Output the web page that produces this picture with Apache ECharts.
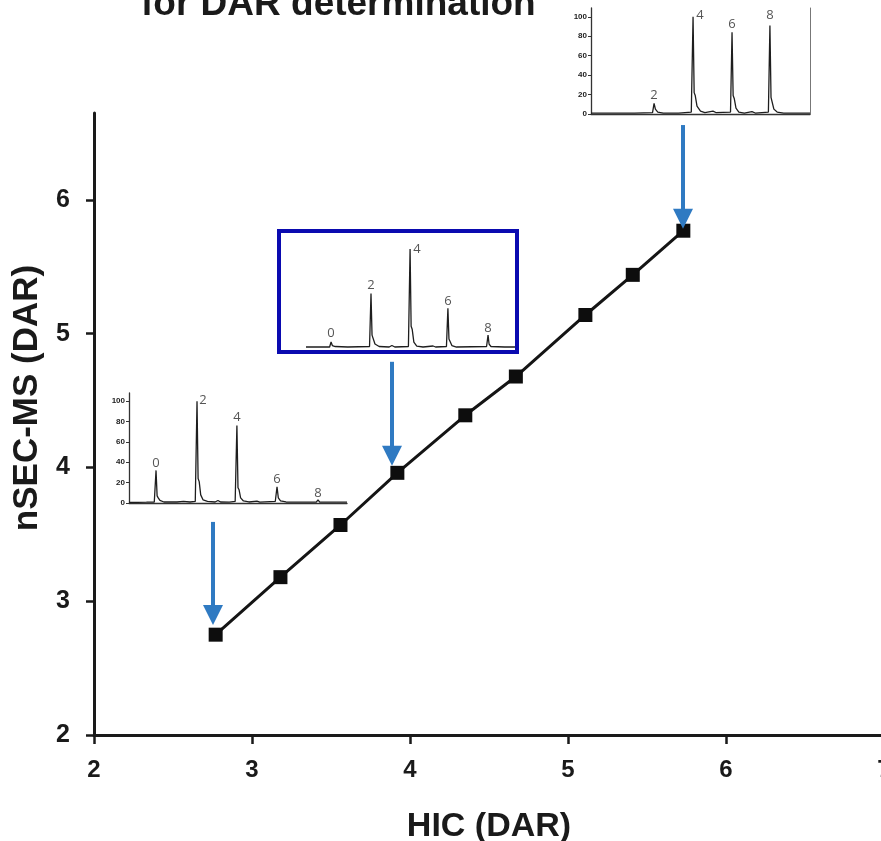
<!DOCTYPE html>
<html>
<head>
<meta charset="utf-8">
<script src="https://cdn.jsdelivr.net/npm/echarts@6/dist/echarts.min.js"></script>
<style>
html,body{margin:0;padding:0;background:#ffffff;}
#chart{width:881px;height:841px;}
</style>
</head>
<body>
<div id="chart"></div>
<script>
// ---- main correlation data ----
const hicDar  = [2.77, 3.18, 3.56, 3.92, 4.35, 4.67, 5.11, 5.41, 5.73];
const nsecDar = [2.75, 3.18, 3.57, 3.96, 4.39, 4.68, 5.14, 5.44, 5.77];
const xTicks = [2, 3, 4, 5, 6, 7];
const yTicks = [2, 3, 4, 5, 6];
const titleText = 'for DAR determination';
const xName = 'HIC (DAR)';
const yName = 'nSEC-MS (DAR)';

// arrows: [x, yStart, yEnd] in main-axis units
const arrowX     = [2.753, 3.886, 5.728];
const arrowStart = [3.593, 4.790, 6.560];
const arrowEnd   = [2.898, 4.087, 5.859];

// ---- inset chromatograms: [time, relative intensity] ----
const insetTicks = [0, 20, 40, 60, 80, 100];
const traceLow = [[0,0.5],[8,0.8],[11.6,1],[12.4,32],[12.9,7],[13.4,5],[14.2,2.5],[16,1],[22,1],[25,1.5],[28,1],[30.4,1.5],[31.2,100],[31.7,24],[32.2,21],[32.9,8],[34,3],[36,1.5],[39.5,1],[40.8,2.5],[42,1],[46,0.8],[48.7,1.5],[49.5,76],[50.0,15],[50.5,13],[51.2,5],[52.5,2],[55,1],[58.7,1.8],[60,0.8],[67.1,1.5],[67.9,16],[68.5,5],[69.5,2],[72,1],[80,0.8],[86,1],[86.7,3],[87.4,1],[95,0.8],[100,0.8]];
const traceMid = [[0,1],[11.3,1],[12,6],[12.6,2.5],[14,1.5],[20,1],[30.4,1.5],[31.1,55],[31.6,13],[32.1,11],[33,4],[35,1.5],[39.8,1],[41.1,2.5],[42.5,1],[49,1.5],[49.8,100],[50.3,22],[50.8,19],[51.6,6],[53,2],[56,1],[60.8,2],[62,1],[67.2,1.5],[67.9,40],[68.4,9],[68.9,7],[69.8,2.5],[72,1],[86.4,1.5],[87.1,13],[87.6,4],[88.5,1.5],[95,1],[100,1]];
const traceHigh = [[0,1],[20,1],[28.1,1.5],[28.8,11],[29.4,5],[30.5,2],[33,1],[40,1],[45.8,2],[46.6,100],[47.1,22],[47.6,19],[48.4,8],[50,3],[52,1.5],[55.7,3],[57,1.5],[63.7,2],[64.4,84],[64.9,19],[65.4,16],[66.2,6],[67.5,2],[70,1],[73.5,2.5],[75,1],[81,2],[81.7,91],[82.2,17],[82.7,15],[83.5,5],[85,2],[88,1],[100,1]];
// peak labels: [time, height, text]
const labelsLow  = [[12.4,39,'0'],[33.9,101,'2'],[49.5,84,'4'],[67.9,23,'6'],[86.7,10,'8']];
const labelsMid  = [[12,15,'0'],[31.1,63,'2'],[53.1,100,'4'],[67.9,47,'6'],[87.1,20,'8']];
const labelsHigh = [[28.8,19,'2'],[49.8,101,'4'],[64.4,92,'6'],[81.7,101,'8']];

const chart = echarts.init(document.getElementById('chart'), null, {renderer: 'canvas'});

const FONT = 'Liberation Sans, Arial, sans-serif';
const ink = '#1a1a1a';

function insetX(gi) {
  return {
    type: 'value', gridIndex: gi, min: 0, max: 100,
    axisLine: {show: true, onZero: false, lineStyle: {color: '#333', width: 1.3}},
    axisTick: {show: false}, axisLabel: {show: false}, splitLine: {show: false}
  };
}
function insetY(gi, max) {
  return {
    type: 'value', gridIndex: gi, min: 0, max: max, interval: 20,
    axisLine: {show: true, lineStyle: {color: '#333', width: 1.3}},
    axisTick: {show: true, length: 3, lineStyle: {color: '#333', width: 1}, customValues: insetTicks},
    axisLabel: {show: true, fontSize: 8, fontWeight: 'bold', color: '#222', margin: 4, fontFamily: FONT, customValues: insetTicks},
    splitLine: {show: false}
  };
}
function traceSeries(gi, data) {
  return {
    type: 'line', xAxisIndex: gi, yAxisIndex: gi, data: data, showSymbol: false, symbol: 'none',
    lineStyle: {color: '#1e1e1e', width: 1.3}, silent: true, animation: false, z: 5
  };
}
function labelSeries(gi, data) {
  return {
    type: 'scatter', xAxisIndex: gi, yAxisIndex: gi, symbolSize: 0,
    data: data.map(d => ({value: [d[0], d[1]], name: d[2]})),
    label: {show: true, position: 'inside', formatter: p => p.name, fontSize: 13, color: '#2a2a2a', fontFamily: 'Open Sans, Noto Sans, sans-serif'},
    silent: true, animation: false, z: 6
  };
}

const option = {
  backgroundColor: '#ffffff',
  animation: false,
  title: {
    text: titleText, left: 136, top: -19,
    textStyle: {fontSize: 37, fontWeight: 'bold', color: ink, fontFamily: FONT}
  },
  graphic: [
    {type: 'rect', shape: {x: 279, y: 231, width: 238, height: 121}, style: {fill: '#ffffff', stroke: '#0a0ab0', lineWidth: 4}, z: 1}
  ],
  grid: [
    {left: 94, right: -3, top: 113, bottom: 106, containLabel: false, outerBoundsMode: 'none'},
    {left: 129, top: 393, width: 218, height: 110, containLabel: false, outerBoundsMode: 'none'},
    {left: 306, top: 242, width: 209, height: 106, containLabel: false, outerBoundsMode: 'none'},
    {left: 591, top: 8, width: 219, height: 106, containLabel: false, outerBoundsMode: 'none'}
  ],
  xAxis: [
    {
      type: 'value', gridIndex: 0, min: 2, max: 7, interval: 1,
      name: xName, nameLocation: 'middle', nameGap: 75,
      nameTextStyle: {fontSize: 34, fontWeight: 'bold', color: ink, fontFamily: FONT},
      axisLine: {show: true, onZero: false, lineStyle: {color: ink, width: 3}},
      axisTick: {show: true, inside: false, length: 9, lineStyle: {color: ink, width: 2.5}},
      axisLabel: {fontSize: 24, fontWeight: 'bold', color: ink, margin: 23, fontFamily: FONT, customValues: xTicks},
      splitLine: {show: false}
    },
    insetX(1), insetX(2), insetX(3)
  ],
  yAxis: [
    {
      type: 'value', gridIndex: 0, min: 2, max: 6.65, interval: 1,
      name: yName, nameLocation: 'middle', nameGap: 36, nameRotate: 90,
      nameTextStyle: {fontSize: 35, fontWeight: 'bold', color: ink, fontFamily: FONT, padding: [0, 0, 0, 52]},
      axisLine: {show: true, onZero: false, lineStyle: {color: ink, width: 3}},
      axisTick: {show: true, inside: false, length: 8, lineStyle: {color: ink, width: 2.5}, customValues: yTicks},
      axisLabel: {fontSize: 25, fontWeight: 'bold', color: ink, margin: 24, fontFamily: FONT, customValues: yTicks},
      splitLine: {show: false}
    },
    insetY(1, 108), insetY(2, 107),
    insetY(3, 109),
    {type: 'value', gridIndex: 3, min: 0, max: 109, position: 'right',
     axisLine: {show: true, lineStyle: {color: '#777', width: 1}}, axisTick: {show: false}, axisLabel: {show: false}, splitLine: {show: false}}
  ],
  series: [
    {
      type: 'line', xAxisIndex: 0, yAxisIndex: 0,
      data: hicDar.map((x, i) => [x, nsecDar[i]]),
      symbol: 'rect', symbolSize: 14, showSymbol: true,
      itemStyle: {color: '#0d0d0d'},
      lineStyle: {color: '#151515', width: 3},
      z: 4,
      markLine: {
        silent: true, animation: false,
        symbol: ['none', 'triangle'], symbolSize: 20,
        lineStyle: {color: '#2f7ac2', width: 4, type: 'solid'},
        label: {show: false},
        data: arrowX.map((x, i) => [{coord: [x, arrowStart[i]]}, {coord: [x, arrowEnd[i]]}])
      }
    },
    traceSeries(1, traceLow), labelSeries(1, labelsLow),
    traceSeries(2, traceMid), labelSeries(2, labelsMid),
    traceSeries(3, traceHigh), labelSeries(3, labelsHigh)
  ]
};
chart.setOption(option);
</script>
</body>
</html>
